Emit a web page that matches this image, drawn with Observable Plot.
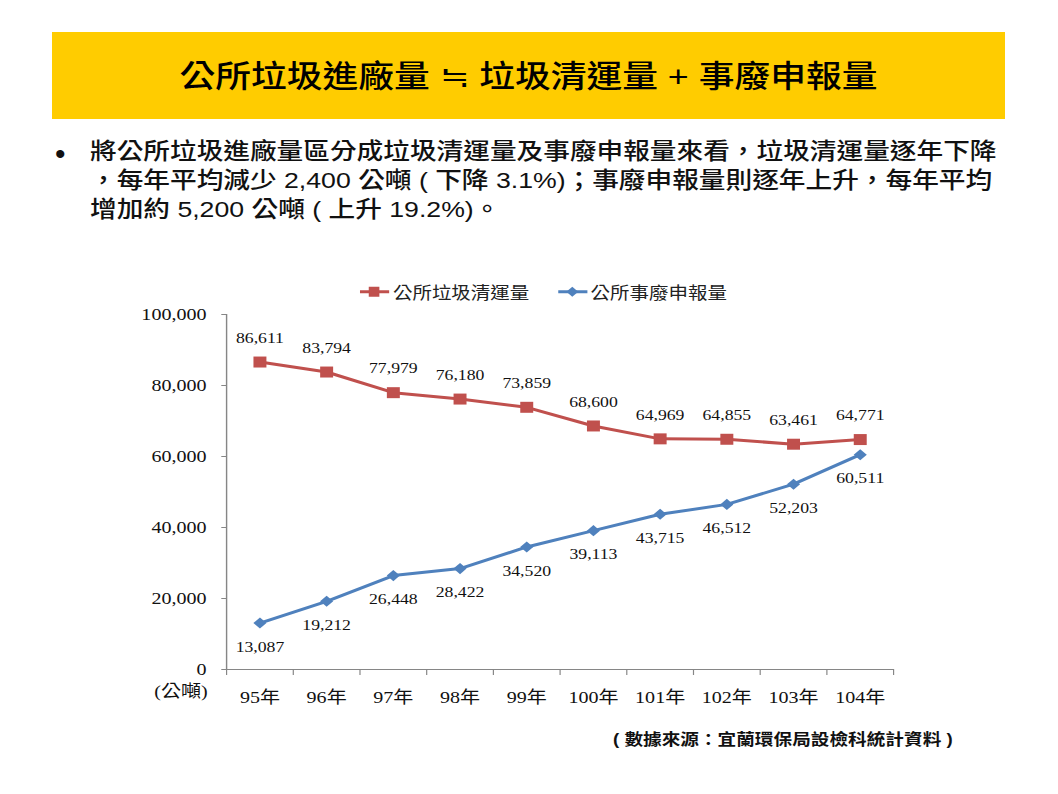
<!DOCTYPE html>
<html>
<head>
<meta charset="utf-8">
<script src="https://cdn.jsdelivr.net/npm/d3@7"></script>
<script src="https://cdn.jsdelivr.net/npm/@observablehq/plot@0.6"></script>
<style>
  html, body { margin: 0; padding: 0; background: #fff; }
  #page { position: relative; width: 1058px; height: 794px; overflow: hidden; background: #fff; }
  #titlebox { position: absolute; left: 52px; top: 32px; width: 953px; height: 87px; background: #FFCC00; }
  #title { position: absolute; left: 0; width: 953px; top: 45px; transform: translateY(-50%) scaleX(1.18); transform-origin: 50% 50%;
           text-align: center; white-space: nowrap; font-family: "Liberation Sans", "Noto Sans CJK TC", sans-serif; font-size: 30.3px; font-weight: 500; color: #000; line-height: 1; }
  .bodyline { position: absolute; left: 90px; white-space: nowrap; transform: translateY(-50%) scaleX(1.18); transform-origin: 0 50%;
              font-family: "Liberation Sans", "Noto Sans CJK TC", sans-serif; font-size: 22.6px; font-weight: 500; color: #111; line-height: 1; }
  #bullet { position: absolute; left: 55px; top: 154px; transform: translateY(-50%); font-family: "Liberation Sans", sans-serif; font-size: 30px; color: #111; line-height: 1; }
  #source { position: absolute; left: 613px; top: 740px; white-space: nowrap; transform: translateY(-50%) scaleX(1.18); transform-origin: 0 50%;
            font-family: "Liberation Sans", "Noto Sans CJK TC", sans-serif; font-size: 15.8px; font-weight: 700; color: #111; line-height: 1; }
  #chart { position: absolute; left: 0; top: 270px; transform: scaleX(1.18); transform-origin: 0 0; }
  #legend { position: absolute; left: 305px; top: 22px; transform: translateY(-50%); display: flex; align-items: center; white-space: nowrap;
            font-family: "Noto Sans CJK TC", sans-serif; font-size: 16.5px; font-weight: 400; color: #222; line-height: 1; }
  #legend .item { display: flex; align-items: center; margin-right: 24px; }
  #legend svg { margin-right: 3px; }
</style>
</head>
<body>
<div id="page">
  <div id="titlebox"><div id="title">公所垃圾進廠量 ≒ 垃圾清運量 + 事廢申報量</div></div>
  <div id="bullet">•</div>
  <div class="bodyline" style="top:152px">將公所垃圾進廠量區分成垃圾清運量及事廢申報量來看，垃圾清運量逐年下降</div>
  <div class="bodyline" style="top:181px">，每年平均減少 2,400 公噸 ( 下降 3.1%)；事廢申報量則逐年上升，每年平均</div>
  <div class="bodyline" style="top:209.5px">增加約 5,200 公噸 ( 上升 19.2%)。</div>
  <div id="chart"></div>
  <div id="source">( 數據來源：宜蘭環保局設檢科統計資料 )</div>
</div>
<script>
// ---- data ----
const years = ["95年", "96年", "97年", "98年", "99年", "100年", "101年", "102年", "103年", "104年"];
const collectionTons = [86611, 83794, 77979, 76180, 73859, 68600, 64969, 64855, 63461, 64771];
const declaredTons = [13087, 19212, 26448, 28422, 34520, 39113, 43715, 46512, 52203, 60511];
const seriesNames = ["公所垃圾清運量", "公所事廢申報量"];
const yTicks = [0, 20000, 40000, 60000, 80000, 100000];
const unitLabel = "(公噸)";

const RED = "#C0504D";
const BLUE = "#4F81BD";
const AXIS = "#868686";
const S = 1.18;            // horizontal stretch of the whole chart
const W = Math.round(1058 / S);

const collRows = years.map((y, i) => ({i, year: y, v: collectionTons[i]}));
const declRows = years.map((y, i) => ({i, year: y, v: declaredTons[i]}));
const fmt = d3.format(",");

const serif = "'Liberation Serif', 'Noto Sans CJK TC', serif";

const chart = Plot.plot({
  width: W,
  height: 450,
  marginLeft: 226 / S,
  marginRight: W - 893 / S,
  marginTop: 44,
  marginBottom: 51,
  x: {domain: [-0.5, years.length - 0.5], axis: null},
  y: {domain: [0, 100000], axis: null},
  style: {fontFamily: serif, fontSize: "15px", color: "#111", background: "transparent", overflow: "visible"},
  marks: [
    Plot.ruleY([0], {stroke: AXIS, strokeWidth: 1.2}),
    Plot.ruleX([-0.5], {stroke: AXIS, strokeWidth: 1.2}),
    Plot.axisY({ticks: yTicks, tickFormat: fmt, label: null, tickSize: 4, tickPadding: 13, stroke: AXIS, fill: "#111", fontSize: 17, fontFamily: serif}),
    Plot.axisX({ticks: d3.range(-0.5, years.length, 1), tickFormat: () => "", label: null, tickSize: 6, stroke: AXIS}),
    Plot.axisX({ticks: d3.range(years.length), tickFormat: i => years[i], label: null, tickSize: 0, tickPadding: 21, fill: "#111", fontSize: 17, fontFamily: serif}),
    Plot.text([unitLabel], {frameAnchor: "bottom-left", text: d => d, textAnchor: "end", dx: -16, dy: 27, fontSize: 17, fill: "#111", fontFamily: serif}),
    Plot.line(collRows, {x: "i", y: "v", stroke: RED, strokeWidth: 3}),
    Plot.line(declRows, {x: "i", y: "v", stroke: BLUE, strokeWidth: 3}),
    Plot.dot(collRows, {x: "i", y: "v", symbol: "square", r: 6.2, fill: RED}),
    Plot.dot(declRows, {x: "i", y: "v", symbol: "diamond2", r: 5, fill: BLUE}),
    Plot.text(collRows, {x: "i", y: "v", text: d => fmt(d.v), dy: -24, fontSize: 15, fill: "#111"}),
    Plot.text(declRows, {x: "i", y: "v", text: d => fmt(d.v), dy: 24, fontSize: 15, fill: "#111"})
  ]
});

const holder = document.getElementById("chart");
holder.style.width = W + "px";
holder.appendChild(chart);

// legend
const legend = document.createElement("div");
legend.id = "legend";
const swatches = [
  {name: seriesNames[0], color: RED, marker: '<rect x="7.5" y="1" width="9" height="10" fill="' + RED + '"/>'},
  {name: seriesNames[1], color: BLUE, marker: '<path d="M12,1 L17,6 L12,11 L7,6 Z" fill="' + BLUE + '"/>'}
];
swatches.forEach(s => {
  const item = document.createElement("div");
  item.className = "item";
  item.innerHTML = '<svg width="25" height="12" viewBox="0 0 25 12"><line x1="0" x2="25" y1="6" y2="6" stroke="' + s.color + '" stroke-width="3"/>' + s.marker + '</svg><span>' + s.name + '</span>';
  legend.appendChild(item);
});
holder.appendChild(legend);
</script>
</body>
</html>
